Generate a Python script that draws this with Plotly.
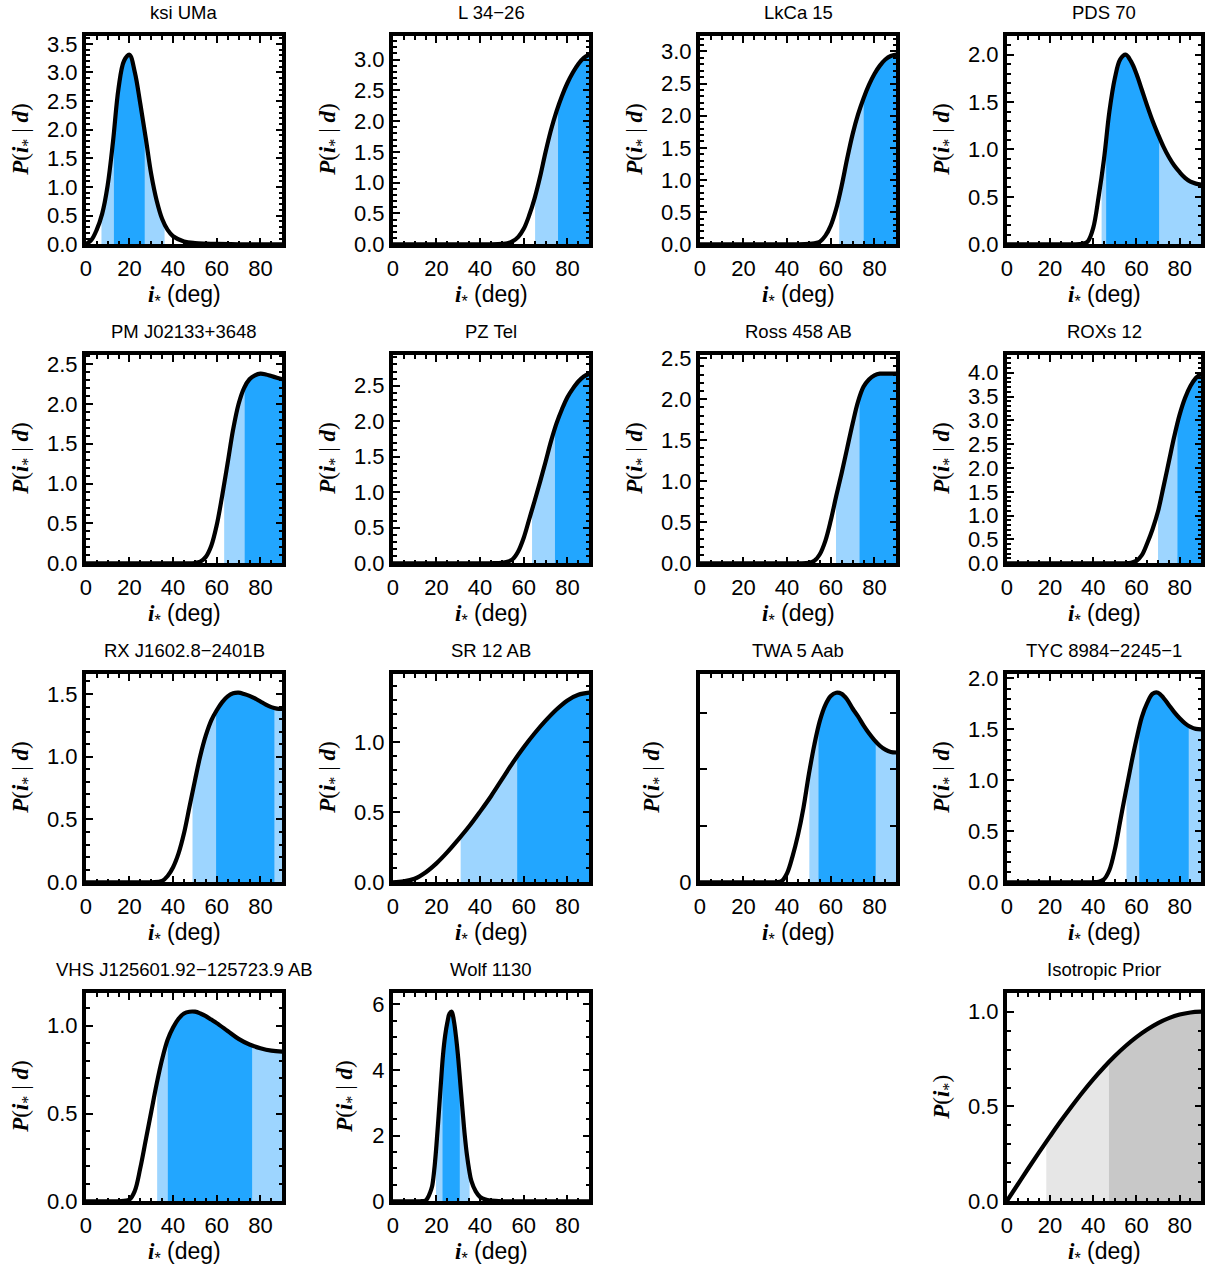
import plotly.graph_objects as go

# ---------------- data ----------------
names = ["ksi UMa", "L 34\u221226", "LkCa 15", "PDS 70",
         "PM J02133+3648", "PZ Tel", "Ross 458 AB", "ROXs 12",
         "RX J1602.8\u22122401B", "SR 12 AB", "TWA 5 Aab", "TYC 8984\u22122245\u22121",
         "VHS J125601.92\u2212125723.9 AB", "Wolf 1130", "Isotropic Prior"]

ksi_x = [0, 2.5, 5, 7.5, 10, 12.5, 15, 17.5, 20, 22.5, 25, 27.5, 30, 32.5, 35, 37.5, 40, 45, 50, 55, 60, 70, 80, 90]
ksi_y = [0, 0.07, 0.25, 0.53, 1.02, 1.80, 2.72, 3.20, 3.31, 3.00, 2.45, 1.85, 1.22, 0.76, 0.44, 0.25, 0.14, 0.05, 0.02, 0.01, 0.005, 0, 0, 0]

grid_a = [0, 10, 20, 30, 40, 45, 50, 52.5, 55, 57.5, 60, 62.5, 65, 67.5, 70, 72.5, 75, 77.5, 80, 82.5, 85, 87.5, 90]
l34_y = [0, 0, 0, 0, 0, 0, 0.005, 0.015, 0.05, 0.12, 0.25, 0.47, 0.75, 1.10, 1.50, 1.86, 2.16, 2.41, 2.62, 2.79, 2.93, 3.03, 3.08]
lkca_y = [0, 0, 0, 0, 0, 0, 0.005, 0.015, 0.04, 0.13, 0.29, 0.55, 0.91, 1.33, 1.71, 2.02, 2.27, 2.48, 2.65, 2.78, 2.875, 2.93, 2.95]
pm_y = [0, 0, 0, 0, 0, 0, 0.003, 0.02, 0.08, 0.22, 0.48, 0.85, 1.26, 1.68, 2.00, 2.20, 2.31, 2.36, 2.38, 2.37, 2.35, 2.33, 2.31]
pz_y = [0, 0, 0, 0, 0, 0, 0.005, 0.02, 0.06, 0.17, 0.36, 0.62, 0.88, 1.15, 1.43, 1.72, 1.97, 2.17, 2.34, 2.46, 2.56, 2.63, 2.67]
ross_y = [0, 0, 0, 0, 0, 0, 0.005, 0.03, 0.11, 0.27, 0.52, 0.82, 1.10, 1.40, 1.70, 1.97, 2.15, 2.24, 2.29, 2.31, 2.31, 2.31, 2.31]

grid_b = [0, 10, 20, 30, 35, 37.5, 40, 42.5, 45, 47.5, 50, 52.5, 55, 57.5, 60, 62.5, 65, 67.5, 70, 72.5, 75, 77.5, 80, 82.5, 85, 87.5, 90]
pds_y = [0, 0, 0, 0, 0.005, 0.03, 0.17, 0.50, 0.90, 1.40, 1.75, 1.95, 2.00, 1.93, 1.80, 1.63, 1.46, 1.30, 1.16, 1.03, 0.92, 0.83, 0.76, 0.70, 0.66, 0.64, 0.63]
rx_y = [0, 0, 0, 0, 0.01, 0.05, 0.12, 0.23, 0.39, 0.60, 0.81, 1.01, 1.17, 1.29, 1.37, 1.435, 1.48, 1.505, 1.51, 1.50, 1.485, 1.465, 1.44, 1.415, 1.395, 1.383, 1.38]
twa_y = [0, 0, 0, 0, 0, 0.01, 0.08, 0.23, 0.42, 0.66, 0.96, 1.22, 1.43, 1.57, 1.65, 1.68, 1.67, 1.62, 1.54, 1.47, 1.39, 1.32, 1.26, 1.21, 1.175, 1.155, 1.15]
tyc_y = [0, 0, 0, 0, 0, 0, 0, 0.005, 0.03, 0.12, 0.32, 0.60, 0.88, 1.15, 1.40, 1.62, 1.76, 1.85, 1.86, 1.81, 1.74, 1.67, 1.61, 1.56, 1.525, 1.505, 1.50]

roxs_x = [0, 10, 20, 30, 40, 50, 55, 57.5, 60, 62.5, 65, 67.5, 70, 72.5, 75, 77.5, 80, 82.5, 85, 87.5, 90]
roxs_y = [0, 0, 0, 0, 0, 0, 0, 0.01, 0.05, 0.17, 0.42, 0.72, 1.09, 1.60, 2.13, 2.66, 3.12, 3.47, 3.72, 3.89, 3.98]

sr_x = [0, 5, 10, 15, 20, 25, 30, 35, 40, 45, 50, 55, 60, 65, 70, 75, 80, 85, 90]
sr_y = [0, 0.006, 0.025, 0.07, 0.135, 0.215, 0.305, 0.40, 0.505, 0.615, 0.735, 0.855, 0.965, 1.065, 1.155, 1.235, 1.30, 1.34, 1.355]

vhs_x = [0, 10, 15, 20, 22.5, 25, 27.5, 30, 32.5, 35, 37.5, 40, 42.5, 45, 47.5, 50, 52.5, 55, 57.5, 60, 65, 70, 75, 80, 85, 90]
vhs_y = [0, 0, 0, 0.01, 0.06, 0.19, 0.35, 0.51, 0.67, 0.81, 0.92, 0.99, 1.04, 1.07, 1.08, 1.08, 1.07, 1.055, 1.035, 1.015, 0.97, 0.925, 0.893, 0.872, 0.858, 0.852]

wolf_x = [0, 10, 12.5, 15, 16, 17, 18, 19, 20, 21, 22, 23, 24, 25, 26, 27, 28, 29, 30, 31, 32, 33, 34, 35, 36, 38, 40, 42.5, 45, 50, 60, 70, 80, 90]
wolf_y = [0, 0, 0, 0.02, 0.10, 0.25, 0.45, 0.95, 1.70, 2.60, 3.55, 4.45, 5.05, 5.45, 5.72, 5.78, 5.50, 5.00, 4.35, 3.55, 2.75, 2.00, 1.40, 0.95, 0.62, 0.30, 0.13, 0.05, 0.02, 0, 0, 0, 0, 0]

iso_x = [0, 5, 10, 15, 20, 25, 30, 35, 40, 45, 50, 55, 60, 65, 70, 75, 80, 85, 90]
iso_y = [0, 0.087, 0.174, 0.259, 0.342, 0.423, 0.500, 0.574, 0.643, 0.707, 0.766, 0.819, 0.866, 0.906, 0.940, 0.966, 0.985, 0.996, 1.0]

# credible intervals: (outer / 95%) and (inner / 68%), in degrees
band_outer = [(7.2, 36.1), (65.2, 90), (63.9, 90), (43.9, 90),
              (63.4, 90), (63.8, 90), (62.4, 90), (70.0, 90),
              (48.9, 90), (31.1, 90), (50.2, 90), (55.4, 90),
              (32.7, 90), (19.8, 35.2), (18.3, 90)]
band_inner = [(12.9, 27.0), (75.7, 90), (75.1, 90), (46.0, 70.5),
              (72.8, 90), (74.3, 90), (73.2, 90), (79.0, 90),
              (59.7, 86.4), (57.0, 90), (54.4, 80.6), (61.3, 84.2),
              (37.6, 76.2), (22.8, 30.7), (47.3, 90)]

xs = [ksi_x, grid_a, grid_a, grid_b, grid_a, grid_a, grid_a, roxs_x,
      grid_b, sr_x, grid_b, grid_b, vhs_x, wolf_x, iso_x]
ys = [ksi_y, l34_y, lkca_y, pds_y, pm_y, pz_y, ross_y, roxs_y,
      rx_y, sr_y, twa_y, tyc_y, vhs_y, wolf_y, iso_y]

# ---------------- layout geometry ----------------
W, H = 1205, 1268
col_x = [84, 391, 698, 1005]
col_w = [200, 200, 200, 198]
row_y = [34, 353, 672, 991]
PH = 212
LW = 3.5          # frame line width
INSET = LW / 2    # frame is centred on the panel edge
positions = [(0, 0), (0, 1), (0, 2), (0, 3),
             (1, 0), (1, 1), (1, 2), (1, 3),
             (2, 0), (2, 1), (2, 2), (2, 3),
             (3, 0), (3, 1), (3, 3)]

LIGHT_B, DARK_B = "#9dd5ff", "#22a6ff"
LIGHT_G, DARK_G = "#e6e6e6", "#c8c8c8"
SANS = "Liberation Sans, Arial, sans-serif"
SERIF = "Liberation Serif, Times New Roman, serif"

fig = go.Figure()
shapes, annotations = [], []
layout = dict(width=W, height=H, margin=dict(l=0, r=0, t=0, b=0, pad=0, autoexpand=False),
              paper_bgcolor="white", plot_bgcolor="white", showlegend=False)

for k in range(len(names)):
    n = k + 1
    sfx = "" if n == 1 else str(n)
    xa, ya = "x" + sfx, "y" + sfx
    r, c = positions[k]
    x0, y0, pw = col_x[c], row_y[r], col_w[c]
    ymax = 1.1 * max(ys[k])
    iso = (k == len(names) - 1)

    # y tick configuration
    if names[k] == "Wolf 1130":
        ytick = dict(dtick=2, tick0=0, tickformat="d", minor=dict(dtick=0.5))
    elif names[k] == "TWA 5 Aab":
        ytick = dict(tickmode="array", tickvals=[0, 0.5, 1.0, 1.5],
                     ticktext=["0", " ", " ", " "])
    else:
        ytick = dict(dtick=0.5, tick0=0, tickformat=".1f", minor=dict(dtick=0.1))

    common = dict(showline=True, linewidth=LW, linecolor="black", mirror="ticks",
                  ticks="inside", ticklen=7, tickwidth=2, tickcolor="black",
                  showgrid=False, zeroline=False, fixedrange=True, automargin=False,
                  tickfont=dict(family=SANS, size=22, color="black"))
    layout["xaxis" + sfx] = dict(domain=[(x0 + INSET) / W, (x0 + pw - INSET) / W], anchor=ya,
                                 range=[0, 90], dtick=20, tick0=0, ticklabelstandoff=2,
                                 minor=dict(dtick=5, ticks="inside", ticklen=4,
                                            tickwidth=1.5, tickcolor="black"),
                                 **common)
    yminor = ytick.pop("minor", None)
    yax = dict(domain=[1 - (y0 + PH - INSET) / H, 1 - (y0 + INSET) / H], anchor=xa,
               range=[0, ymax], ticklabelstandoff=0,
               **ytick, **common)
    if yminor:
        yax["minor"] = dict(dtick=yminor["dtick"], ticks="inside", ticklen=4,
                            tickwidth=1.5, tickcolor="black")
    layout["yaxis" + sfx] = yax

    # shaded credible intervals
    lo_c, hi_c = (LIGHT_G, DARK_G) if iso else (LIGHT_B, DARK_B)
    for (a, b), col in ((band_outer[k], lo_c), (band_inner[k], hi_c)):
        shapes.append(dict(type="rect", xref=xa, yref=ya, x0=a, x1=b, y0=0, y1=ymax,
                           fillcolor=col, line=dict(width=0), layer="below"))

    # mask above the curve, then the curve
    fig.add_trace(go.Scatter(x=[0, 90], y=[ymax, ymax], mode="lines",
                             line=dict(width=0, color="white"),
                             xaxis=xa, yaxis=ya, hoverinfo="skip"))
    fig.add_trace(go.Scatter(x=xs[k], y=ys[k], mode="lines",
                             line=dict(color="black", width=4.2, shape="spline", smoothing=1.0),
                             fill="tonexty", fillcolor="white",
                             xaxis=xa, yaxis=ya, hoverinfo="skip"))

    # panel title
    annotations.append(dict(text=names[k], xref=xa + " domain", yref=ya + " domain",
                            x=0.5, y=1, yanchor="middle", yshift=23, showarrow=False,
                            font=dict(family=SANS, size=18.5, color="black")))
    # x title
    annotations.append(dict(text="<span style='font-family:" + SERIF + "'><b><i>i</i></b></span>"
                                 "<sub>*</sub> (deg)",
                            xref=xa + " domain", yref=ya + " domain",
                            x=0.5, y=0, yanchor="middle", yshift=-51, showarrow=False,
                            font=dict(family=SANS, size=23, color="black")))
    # y title
    if iso:
        ytxt = "<b><i>P</i></b>(<b><i>i</i></b><sub>*</sub>)"
    else:
        ytxt = "<b><i>P</i></b>(<b><i>i</i></b><sub>*</sub> | <b><i>d</i></b>)"
    narrow = names[k] in ("Wolf 1130", "TWA 5 Aab")
    annotations.append(dict(text=ytxt, xref=xa + " domain", yref=ya + " domain",
                            x=0, y=0.5, xanchor="center", yanchor="middle",
                            xshift=-47 if narrow else -64, textangle=-90,
                            showarrow=False,
                            font=dict(family=SERIF, size=23, color="black")))

layout["shapes"] = shapes
layout["annotations"] = annotations
fig.update_layout(**layout)
fig.write_html("out.html")
